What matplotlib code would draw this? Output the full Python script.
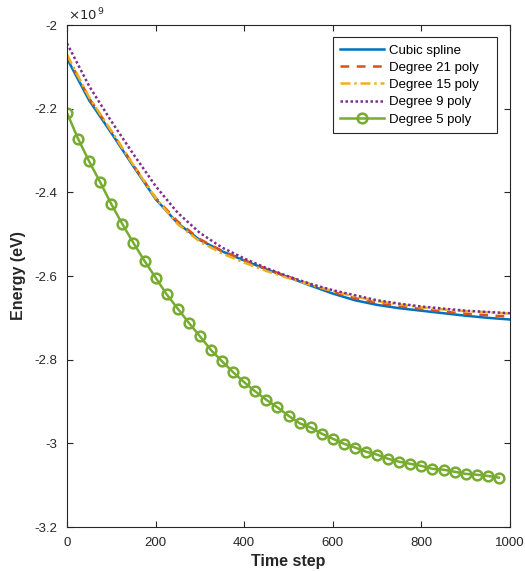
import numpy as np
import matplotlib
matplotlib.use('Agg')
import matplotlib.pyplot as plt
from matplotlib.ticker import FuncFormatter

plt.rcParams['font.family'] = ['Liberation Sans', 'DejaVu Sans']

# Energy values in units of 1e9 eV
t = [0, 50, 100, 150, 200, 250, 300, 350, 400, 450, 500,
     550, 600, 650, 700, 750, 800, 850, 900, 950, 1000]

spline = [-2.080, -2.180, -2.258, -2.338, -2.416, -2.474, -2.514, -2.541, -2.563, -2.584, -2.603,
          -2.623, -2.642, -2.658, -2.669, -2.677, -2.683, -2.689, -2.695, -2.700, -2.704]
deg21 = [-2.074, -2.175, -2.254, -2.335, -2.413, -2.470, -2.512, -2.540, -2.562, -2.583, -2.602,
         -2.620, -2.638, -2.653, -2.664, -2.672, -2.679, -2.685, -2.690, -2.694, -2.697]
deg15 = [-2.071, -2.173, -2.253, -2.335, -2.414, -2.476, -2.518, -2.546, -2.568, -2.588, -2.605,
         -2.621, -2.636, -2.649, -2.660, -2.668, -2.675, -2.680, -2.684, -2.687, -2.690]
deg9 = [-2.044, -2.146, -2.230, -2.309, -2.385, -2.449, -2.497, -2.532, -2.558, -2.581, -2.601,
        -2.619, -2.634, -2.646, -2.658, -2.666, -2.673, -2.678, -2.683, -2.686, -2.689]

t5 = list(range(0, 1000, 25))
deg5 = [-2.210, -2.272, -2.326, -2.376, -2.428, -2.476, -2.521, -2.564, -2.604, -2.644,
        -2.678, -2.712, -2.744, -2.777, -2.804, -2.830, -2.854, -2.876, -2.896, -2.914,
        -2.934, -2.952, -2.962, -2.977, -2.989, -3.001, -3.010, -3.020, -3.027, -3.037,
        -3.044, -3.049, -3.054, -3.061, -3.063, -3.068, -3.073, -3.075, -3.078, -3.082]

fig = plt.figure(figsize=(5.25, 5.71), dpi=100)
ax = fig.add_axes([67/525, 1-527/571, 443/525, 502/571])

lw = 1.8
ax.plot(t, spline, color='#0072BD', lw=lw, label='Cubic spline   ')
ax.plot(t, deg21, color='#D95319', lw=lw, ls=(0, (3.5, 3)), label='Degree 21 poly   ')
ax.plot(t, deg15, color='#EDB120', lw=lw, ls=(0, (4, 1.5, 1, 1.5)), label='Degree 15 poly   ')
ax.plot(t, deg9, color='#7E2F8E', lw=lw, ls=(0, (1, 1)), label='Degree 9 poly   ')
ax.plot(t5, deg5, color='#77AC30', lw=lw, marker='o', ms=7, mew=1.8,
        mfc='none', label='Degree 5 poly   ')

ax.set_xlim(0, 1000)
ax.set_ylim(-3.2, -2)
ax.set_xticks(range(0, 1001, 200))
ax.set_yticks(np.arange(-3.2, -1.99, 0.2))
ax.yaxis.set_major_formatter(FuncFormatter(lambda v, p: '%g' % round(v, 2)))

col = '#262626'
for s in ax.spines.values():
    s.set_color(col)
    s.set_linewidth(0.8)
ax.tick_params(direction='in', length=4, width=0.8, colors=col, labelsize=9.5,
               top=True, right=True)
ax.tick_params(axis='x', pad=7)
ax.tick_params(axis='y', pad=7)

ax.set_xlabel('Time step', fontsize=11.5, fontweight='bold', color=col, labelpad=4)
ax.set_ylabel('Energy (eV)', fontsize=11.5, fontweight='bold', color=col, labelpad=6)

ax.text(0.003, 1.004, r'$\times10^{\,9}$', transform=ax.transAxes, fontsize=9.5,
        color=col, ha='left', va='bottom')

leg = ax.legend(loc='upper right', bbox_to_anchor=(0.9707, 0.976), borderaxespad=0,
                fontsize=9.5, handlelength=3.3, labelspacing=0.38, handletextpad=0.4,
                borderpad=0.55, fancybox=False, framealpha=1)
leg.get_frame().set_edgecolor(col)
leg.get_frame().set_linewidth(0.8)

plt.savefig('out.png', dpi=100)
